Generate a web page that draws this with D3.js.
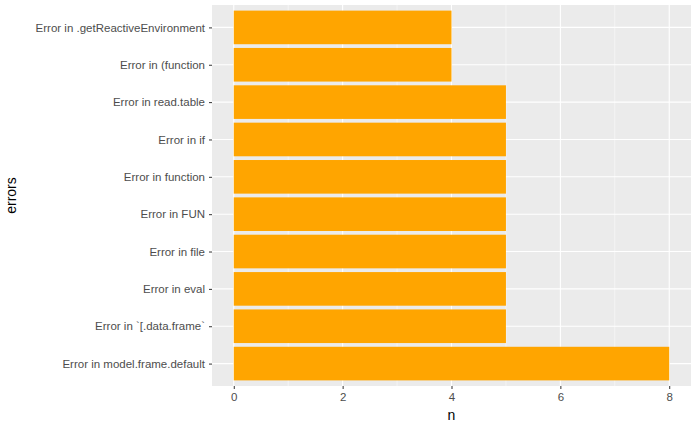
<!DOCTYPE html>
<html><head><meta charset="utf-8">
<script src="https://cdn.jsdelivr.net/npm/d3@7"></script>
<style>body{margin:0;background:#fff}text{font-family:"Liberation Sans",Arial,sans-serif}</style>
</head><body>
<svg width="700" height="432"></svg>
<script>
// categories top to bottom
var errors = ["Error in .getReactiveEnvironment", "Error in (function", "Error in read.table",
  "Error in if", "Error in function", "Error in FUN", "Error in file", "Error in eval",
  "Error in `[.data.frame`", "Error in model.frame.default"];
var counts = [4, 4, 5, 5, 5, 5, 5, 5, 5, 8];
var xTicks = [0, 2, 4, 6, 8];
var xMinor = [1, 3, 5, 7];

var svg = d3.select("svg"),
    margin = {top: 5, right: 9, bottom: 46, left: 212},
    width = 700 - margin.left - margin.right,
    height = 432 - margin.top - margin.bottom,
    chart = svg.append("g").attr("transform", "translate(" + margin.left + "," + margin.top + ")");

var x = d3.scaleLinear().domain([-0.4, 8.4]).range([0, width]);
var step = height / (errors.length - 1 + 1.2);
var y = d3.scalePoint().domain(errors).range([0.6 * step, height - 0.6 * step]);

chart.append("rect").attr("width", width).attr("height", height).attr("fill", "#EBEBEB");

chart.selectAll(".minor").data(xMinor).enter().append("line")
  .attr("x1", x).attr("x2", x).attr("y1", 0).attr("y2", height)
  .attr("stroke", "#fff").attr("stroke-width", 0.5);
chart.selectAll(".major").data(xTicks).enter().append("line")
  .attr("x1", x).attr("x2", x).attr("y1", 0).attr("y2", height)
  .attr("stroke", "#fff").attr("stroke-width", 1.1);
chart.selectAll(".hgrid").data(errors).enter().append("line")
  .attr("x1", 0).attr("x2", width).attr("y1", y).attr("y2", y)
  .attr("stroke", "#fff").attr("stroke-width", 1.1);

chart.selectAll(".bar").data(errors).enter().append("rect")
  .attr("x", x(0))
  .attr("y", function(d) { return y(d) - 0.45 * step; })
  .attr("width", function(d, i) { return x(counts[i]) - x(0); })
  .attr("height", 0.9 * step)
  .attr("fill", "#FFA500");

var xAxis = chart.append("g").attr("transform", "translate(0," + height + ")")
  .call(d3.axisBottom(x).tickValues(xTicks).tickSize(3).tickPadding(4));
var yAxis = chart.append("g")
  .call(d3.axisLeft(y).tickSize(3).tickPadding(4));
[xAxis, yAxis].forEach(function(a) {
  a.select(".domain").remove();
  a.selectAll(".tick line").attr("stroke", "#333");
  a.selectAll("text").attr("fill", "#4d4d4d").style("font-size", "11.5px")
    .style("font-family", "Liberation Sans, Arial, sans-serif");
});

svg.append("text").attr("x", margin.left + width / 2).attr("y", 420)
  .attr("text-anchor", "middle").style("font-size", "14px").text("n");
svg.append("text").attr("transform", "translate(16," + (margin.top + height / 2) + ") rotate(-90)")
  .attr("text-anchor", "middle").style("font-size", "14px").text("errors");
</script>
</body></html>
